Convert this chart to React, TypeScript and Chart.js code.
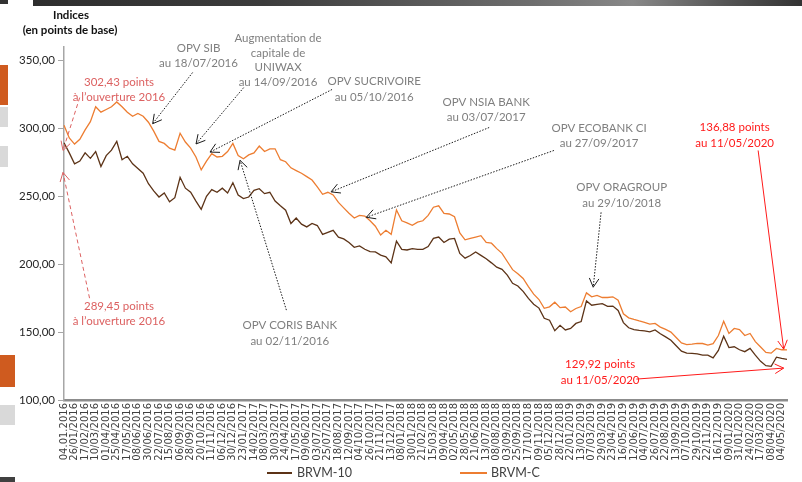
import React, { useEffect, useRef } from "react";
import { Chart, registerables } from "chart.js";

Chart.register(...registerables);

// ---- tick labels (one every 16 trading days) ----
const tickLabels = [
  "04.01.2016", "26/01/2016", "17/02/2016", "10/03/2016", "01/04/2016", "25/04/2016", "17/05/2016", "08/06/2016", "30/06/2016", "22/07/2016", "15/08/2016", "06/09/2016", "28/09/2016", "20/10/2016", "11/11/2016", "06/12/2016", "30/12/2016",
  "23/01/2017", "14/02/2017", "08/03/2017", "30/03/2017", "24/04/2017", "17/05/2017", "09/06/2017", "03/07/2017", "25/07/2017", "18/08/2017", "12/09/2017", "04/10/2017", "26/10/2017", "21/11/2017", "13/12/2017",
  "08/01/2018", "30/01/2018", "21/02/2018", "15/03/2018", "09/04/2018", "02/05/2018", "28/05/2018", "21/06/2018", "13/07/2018", "08/08/2018", "03/09/2018", "25/09/2018", "17/10/2018", "09/11/2018", "05/12/2018", "28/12/2018",
  "22/01/2019", "13/02/2019", "07/03/2019", "29/03/2019", "23/04/2019", "16/05/2019", "12/06/2019", "04/07/2019", "26/07/2019", "22/08/2019", "13/09/2019", "07/10/2019", "29/10/2019", "22/11/2019", "16/12/2019",
  "09/01/2020", "31/01/2020", "24/02/2020", "17/03/2020", "08/04/2020", "04/05/2020",
];

// ---- series (two readings per tick interval, last value = 11/05/2020) ----
const brvmC = [
  302.43, 293, 288.5, 292, 299, 305, 316, 312, 314, 316,
  319.5, 316, 312, 309, 311, 309, 304.6, 298, 290.5, 289,
  285.5, 284, 296.5, 290, 285.5, 279, 269.5, 276, 281.5, 279,
  279.5, 283, 289, 280, 277.7, 280.5, 282, 287, 283, 285,
  285, 277, 275.5, 271, 269, 267, 264.5, 262, 257, 251.5,
  253, 251, 245.5, 241.5, 237.5, 234, 236, 235.5, 232, 228,
  221.5, 225, 222, 240, 232, 230.5, 228.7, 231, 232, 236,
  242, 243, 237.5, 237, 235, 223, 218, 219, 220, 221,
  216, 215.5, 211.5, 208, 202, 196, 193, 189.5, 183.5, 178,
  174, 167.5, 168.6, 172, 168, 168.5, 165, 167.4, 168.8, 178.9,
  176, 177, 175.5, 175.5, 176, 173.5, 163.5, 160.5, 159.3, 158.2,
  157.2, 155.9, 156.4, 153.7, 152, 150, 146, 142, 140.8, 141.2,
  141.7, 141.6, 140.4, 141.5, 147.5, 158, 149, 152.7, 151.8, 147.5,
  149, 143, 139, 135, 134.5, 138, 137, 136.88,
];

const brvm10 = [
  289.45, 282, 274, 276, 282, 278, 283, 272, 280, 284,
  290.5, 277, 279.5, 274, 270.5, 267, 259.3, 254, 249.5, 252.5,
  246, 249, 264, 256, 253, 246.5, 240.5, 250, 255, 253,
  256, 252.5, 260, 251, 248.3, 249.5, 254.4, 255.6, 252, 253,
  246.5, 243, 239.8, 230, 234, 229.5, 227.5, 230, 228.5, 222,
  223.5, 225, 220, 218.7, 216, 212.5, 213.5, 211, 209.3, 209.1,
  206.7, 205.4, 201, 217, 211, 210.5, 211.5, 211, 211, 213,
  219, 220, 216, 218.5, 219, 208, 204.5, 206.4, 209, 206.5,
  204, 201, 197.8, 196.2, 192, 186, 184, 180, 174.8, 170.5,
  167.7, 160.2, 158.8, 151, 155, 151.6, 152.7, 156.4, 157.8, 173,
  169.8, 170.5, 171, 169, 169.2, 166, 157, 153.2, 151.8, 151.3,
  150.9, 150.2, 151.6, 148.8, 146.5, 144, 140, 136, 134.5, 134.3,
  134, 133, 133.1, 131, 136.5, 147, 138.6, 139.2, 137, 135.6,
  138, 133, 128.5, 125.3, 124.8, 131.5, 130.6, 129.92,
];

const seriesNames = ["BRVM-10", "BRVM-C"];
const seriesColors = ["#5c3317", "#ed7d31"];

const xLabels = brvmC.map((_, k) =>
  k % 2 === 0 && k / 2 < tickLabels.length ? tickLabels[k / 2] : ""
);

// ---- annotations, anchored in data space [index, value] ----
const GREY = "#7f7f7f";
const ROSE = "#dc6161";
const RED = "#ff1a1a";
const INK = "#1a1a1a";

type Pt = [number, number];
interface Note {
  lines: string[];
  center: Pt;
  gap: number;
  color: string;
  from: Pt;
  to: Pt;
  stroke: string;
  dash: number[];
}

const notes: Note[] = [
  { lines: ["302,43 points", "à l’ouverture 2016"], center: [10.42, 333.8], gap: 15, color: ROSE, from: [2.98, 322.8], to: [-0.19, 283.8], stroke: ROSE, dash: [4, 3] },
  { lines: ["289,45 points", "à l’ouverture 2016"], center: [10.42, 169.1], gap: 15, color: ROSE, from: [4.84, 175], to: [-0.19, 267.6], stroke: ROSE, dash: [4, 3] },
  { lines: ["OPV SIB", "au 18/07/2016"], center: [25.49, 358.8], gap: 15, color: GREY, from: [24.37, 341.2], to: [16.8, 303.5], stroke: INK, dash: [1.5, 1.5] },
  { lines: ["Augmentation de", "capitale de", "UNIWAX", "au 14/09/2016"], center: [40.56, 366.2], gap: 14.5, color: GREY, from: [34.05, 330.1], to: [25.02, 288.6], stroke: INK, dash: [1.5, 1.5] },
  { lines: ["OPV SUCRIVOIRE", "au 05/10/2016"], center: [58.79, 334.6], gap: 16, color: GREY, from: [50.79, 328.7], to: [27.67, 282.6], stroke: INK, dash: [1.5, 1.5] },
  { lines: ["OPV CORIS BANK", "au 02/11/2016"], center: [42.79, 155.1], gap: 16, color: GREY, from: [42.14, 166.2], to: [33.36, 276.5], stroke: INK, dash: [1.5, 1.5] },
  { lines: ["OPV NSIA BANK", "au 03/07/2017"], center: [80, 319.1], gap: 15, color: GREY, from: [80.56, 300.7], to: [50.6, 253.3], stroke: INK, dash: [1.5, 1.5] },
  { lines: ["OPV ECOBANK CI", "au 27/09/2017"], center: [101.4, 300], gap: 15, color: GREY, from: [92.84, 283.8], to: [57.3, 234.6], stroke: INK, dash: [1.5, 1.5] },
  { lines: ["OPV ORAGROUP", "au 29/10/2018"], center: [105.67, 256.6], gap: 16, color: GREY, from: [101.77, 238.2], to: [100.28, 183.1], stroke: INK, dash: [1.5, 1.5] },
  { lines: ["136,88 points", "au 11/05/2020"], center: [127.07, 300.7], gap: 16, color: RED, from: [131.53, 283.8], to: [136.37, 137.5], stroke: RED, dash: [] },
  { lines: ["129,92 points", "au 11/05/2020"], center: [101.58, 126.5], gap: 16, color: RED, from: [108.47, 115.4], to: [136.37, 123.5], stroke: RED, dash: [] },
];

const FONT = "Lato, 'Open Sans', sans-serif";

const overlayPlugin = {
  id: "overlay",
  afterDraw(chart: any) {
    const { ctx, scales } = chart;
    const xs = scales.x;
    const ys = scales.y;
    const P = (p: Pt) => ({ x: xs.getPixelForValue(p[0]), y: ys.getPixelForValue(p[1]) });
    ctx.save();

    // annotations
    for (const n of notes) {
      const a = P(n.from);
      const b = P(n.to);
      ctx.strokeStyle = n.stroke;
      ctx.lineWidth = 1;
      ctx.setLineDash(n.dash);
      ctx.beginPath();
      ctx.moveTo(a.x, a.y);
      ctx.lineTo(b.x, b.y);
      ctx.stroke();
      ctx.setLineDash([]);
      const ang = Math.atan2(b.y - a.y, b.x - a.x);
      const len = 10;
      const spread = 0.5;
      ctx.beginPath();
      ctx.moveTo(b.x - len * Math.cos(ang - spread), b.y - len * Math.sin(ang - spread));
      ctx.lineTo(b.x, b.y);
      ctx.lineTo(b.x - len * Math.cos(ang + spread), b.y - len * Math.sin(ang + spread));
      ctx.stroke();

      const c = P(n.center);
      ctx.fillStyle = n.color;
      ctx.font = `11.5px ${FONT}`;
      ctx.textAlign = "center";
      ctx.textBaseline = "middle";
      n.lines.forEach((t, i) => ctx.fillText(t, c.x, c.y + i * n.gap));
    }

    // axis title
    ctx.fillStyle = "#111";
    ctx.font = `bold 11.5px ${FONT}`;
    ctx.textAlign = "center";
    ctx.textBaseline = "middle";
    ctx.fillText("Indices", 71, 15);
    ctx.fillText("(en points de base)", 70, 30);

    // legend
    const legendItems = [
      { x0: 267, x1: 292, tx: 297 },
      { x0: 460, x1: 487, tx: 491 },
    ];
    const ly = 473;
    legendItems.forEach((it, i) => {
      ctx.strokeStyle = seriesColors[i];
      ctx.lineWidth = 2;
      ctx.beginPath();
      ctx.moveTo(it.x0, ly);
      ctx.lineTo(it.x1, ly);
      ctx.stroke();
      ctx.fillStyle = "#404040";
      ctx.font = `12.5px ${FONT}`;
      ctx.textAlign = "left";
      ctx.fillText(seriesNames[i], it.tx, ly);
    });
    ctx.restore();
  },
};

export default function App() {
  const ref = useRef<HTMLCanvasElement>(null);

  useEffect(() => {
    if (!ref.current) return;
    const chart = new Chart(ref.current, {
      type: "line",
      data: {
        labels: xLabels,
        datasets: [
          { label: seriesNames[0], data: brvm10, borderColor: seriesColors[0], backgroundColor: seriesColors[0], borderWidth: 1.3, pointRadius: 0, tension: 0 },
          { label: seriesNames[1], data: brvmC, borderColor: seriesColors[1], backgroundColor: seriesColors[1], borderWidth: 1.3, pointRadius: 0, tension: 0 },
        ],
      },
      options: {
        animation: false,
        responsive: true,
        maintainAspectRatio: false,
        events: [],
        layout: { padding: { top: 47, right: 4, bottom: 0, left: 0 } },
        plugins: {
          legend: { display: false },
          tooltip: { enabled: false },
          title: { display: false },
        },
        scales: {
          x: {
            type: "category",
            afterFit: (s: any) => {
              s.height = 82;
            },
            ticks: {
              autoSkip: false,
              minRotation: 90,
              maxRotation: 90,
              padding: 3,
              color: "#404040",
              font: { family: "'DejaVu Sans', sans-serif", size: 10 },
            },
            grid: { display: false, drawTicks: false },
            border: { display: true, color: "#8c8c8c", width: 2.5 },
          },
          y: {
            min: 100,
            max: 360,
            afterFit: (s: any) => {
              s.width = 64;
            },
            ticks: {
              stepSize: 50,
              includeBounds: false,
              padding: 3,
              color: "#262626",
              font: { family: FONT, size: 11.5 },
              callback: (v: any) => Number(v).toFixed(2).replace(".", ","),
            },
            grid: { drawOnChartArea: false, drawTicks: true, tickLength: 6, color: "#a6a6a6", lineWidth: 1 },
            border: { display: true, color: "#a6a6a6", width: 1.5 },
          },
        },
      },
      plugins: [overlayPlugin],
    } as any);
    return () => chart.destroy();
  }, []);

  const block = (x: number, y: number, w: number, h: number, bg: string) => (
    <div style={{ position: "absolute", left: x, top: y, width: w, height: h, background: bg }} />
  );

  return (
    <div style={{ position: "fixed", left: 0, top: 0, width: 802, height: 482, overflow: "hidden", background: "#fff" }}>
      {block(33, 0, 769, 6, "linear-gradient(to right, #2e2e2e 0%, #3c3c3c 30%, #6e6e6e 65%, #888 78%, #555 90%, #333 100%)")}
      {block(0, 0, 8, 4, "#333")}
      {block(0, 65, 8, 40, "#cf5b1f")}
      {block(0, 107, 8, 20, "#d9d9d9")}
      {block(0, 146, 8, 21, "#d9d9d9")}
      {block(0, 355, 15, 32, "#cf5b1f")}
      {block(0, 405, 15, 20, "#d9d9d9")}
      {block(0, 477, 15, 5, "#404040")}
      <div style={{ position: "absolute", left: 0, top: 0, width: 802, height: 482 }}>
        <canvas ref={ref} />
      </div>
    </div>
  );
}
